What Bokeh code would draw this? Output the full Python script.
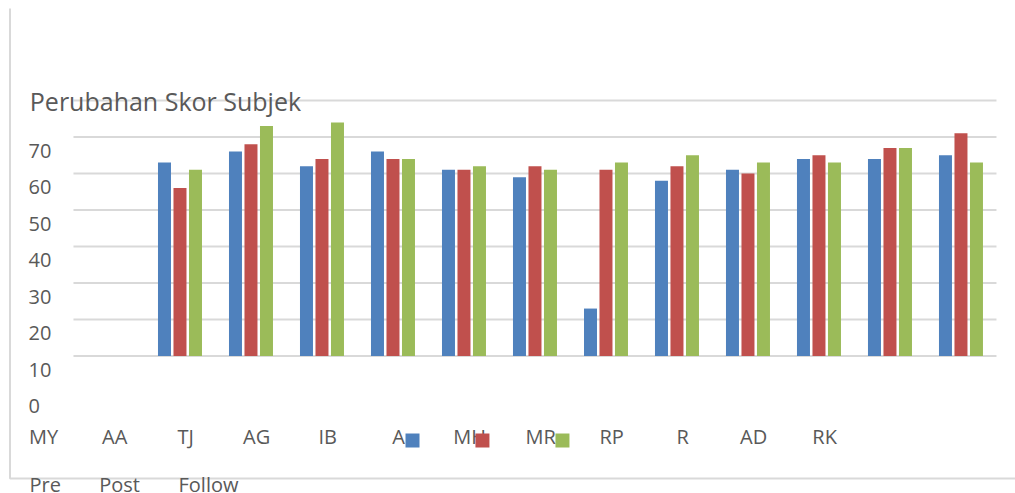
import numpy as np
from bokeh.plotting import figure
from bokeh.models import Range1d, ColumnDataSource
from bokeh.core.properties import value
from bokeh.embed import file_html
from bokeh.resources import INLINE

# ---- data ----
categories = ["MY", "AA", "TJ", "AG", "IB", "A", "MH", "MR", "RP", "R", "AD", "RK"]
series_names = ["Pre", "Post", "Follow"]
pre = [53, 56, 52, 56, 51, 49, 13, 48, 51, 54, 54, 55]
post = [46, 58, 54, 54, 51, 52, 51, 52, 50, 55, 57, 61]
follow = [51, 63, 64, 54, 52, 51, 53, 55, 53, 53, 57, 53]
y_ticks = [70, 60, 50, 40, 30, 20, 10, 0]
grid_values = [0, 10, 20, 30, 40, 50, 60, 70]
title_text = "Perubahan Skor Subjek"

colors = ["#4F81BD", "#C0504D", "#9BBB59"]
text_color = "#595959"
grid_color = "#D9D9D9"
FONT = "Open Sans"

W, H = 1015, 493
p = figure(width=W, height=H, output_backend="svg", toolbar_location=None,
           min_border=0, min_border_left=0, min_border_right=0,
           min_border_top=0, min_border_bottom=0,
           x_range=Range1d(-0.528, 13.768), y_range=Range1d(-37.67, 97.40))
p.axis.visible = False
p.xgrid.visible = False
p.ygrid.visible = False
p.outline_line_color = None
p.background_fill_color = "white"
p.border_fill_color = "white"

# gridlines (plot area spans slots 0.5 .. 13.5)
p.segment(x0=[0.5] * len(grid_values), x1=[13.5] * len(grid_values),
          y0=grid_values, y1=grid_values, line_color=grid_color, line_width=2)

# chart border (left + bottom)
p.line(x=[-0.394, -0.394, 14.0], y=[95.2, -33.56, -33.56], line_color=grid_color, line_width=2)

# bars: category i drawn at slot i+2 (first slot empty)
idx = np.arange(len(categories))
bar_w = 13 / 71
offs = [-15.5 / 71, 0.0, 15.5 / 71]
for s, vals, off, col in zip(series_names, [pre, post, follow], offs, colors):
    src = ColumnDataSource(dict(x=idx + 2 + off, top=vals))
    p.vbar(x="x", top="top", bottom=0, width=bar_w, source=src, fill_color=col, line_color=None)

# title
p.text(x=[-0.115], y=[70.0], text=[title_text], text_font=value(FONT), text_font_size="25px",
       text_color=text_color, text_align="left", text_baseline="alphabetic")

# y tick labels (shifted, as in the reference)
p.text(x=[-0.134] * len(y_ticks), y=[v - 13.8 for v in y_ticks], text=[str(v) for v in y_ticks],
       text_font=value(FONT), text_font_size="20px", text_color=text_color,
       text_align="left", text_baseline="alphabetic")

# category labels
p.text(x=idx + 0.08, y=[-22.05] * len(categories), text=categories,
       text_font=value(FONT), text_font_size="20px", text_color=text_color,
       text_align="center", text_baseline="alphabetic")

# legend swatches
p.scatter(x=[5.275, 6.26, 7.387], y=[-23.15] * 3, marker="square", size=14,
          fill_color=colors, line_color=None)

# legend labels
p.text(x=[-0.12, 0.862, 1.979], y=[-35.2] * 3, text=series_names,
       text_font=value(FONT), text_font_size="20px", text_color=text_color,
       text_align="left", text_baseline="alphabetic")

open("out.html", "w").write(file_html(p, INLINE))
